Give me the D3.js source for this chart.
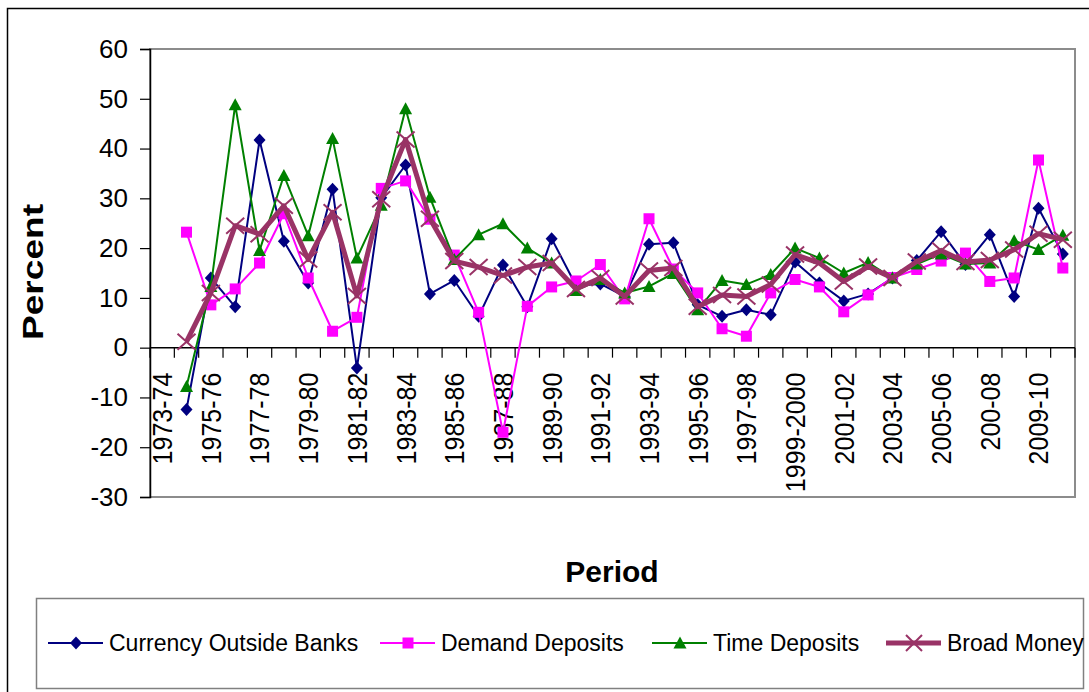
<!DOCTYPE html>
<html>
<head>
<meta charset="utf-8">
<script src="https://cdn.jsdelivr.net/npm/d3@7"></script>
<style>
  html, body { margin: 0; padding: 0; background: #fff; }
  svg { display: block; font-family: "Liberation Sans", Arial, sans-serif; }
</style>
</head>
<body>
<svg id="chart" width="1089" height="692"></svg>
<script>
// ---------- DATA ----------
const categories = ["1973-74","1974-75","1975-76","1976-77","1977-78","1978-79","1979-80","1980-81","1981-82","1982-83",
  "1983-84","1984-85","1985-86","1986-87","1987-88","1988-89","1989-90","1990-91","1991-92","1992-93",
  "1993-94","1994-95","1995-96","1996-97","1997-98","1998-99","1999-2000","2000-01","2001-02","2002-03",
  "2003-04","2004-05","2005-06","2006-07","2007-08","2008-09","2009-10","2010-11"];

// labels shown on the category axis (every other category, as in the original, incl. its "200-08")
const tickLabels = ["1973-74","1975-76","1977-78","1979-80","1981-82","1983-84","1985-86","1987-88","1989-90",
  "1991-92","1993-94","1995-96","1997-98","1999-2000","2001-02","2003-04","2005-06","200-08","2009-10"];

const currency = [null,-12.4,14.0,8.2,41.7,21.4,13.0,31.8,-4.1,30.1,
  36.7,10.8,13.5,6.3,16.6,8.2,21.9,12.5,12.8,10.3,
  20.8,21.1,8.6,6.3,7.6,6.6,17.2,13.0,9.4,10.8,
  14.0,17.5,23.3,16.7,22.7,10.3,28.0,18.8];

const demand = [null,23.2,8.6,11.8,17.0,26.9,14.0,3.3,6.1,32.0,
  33.5,25.8,18.6,7.1,-17.0,8.3,12.2,13.4,16.7,9.8,
  25.9,15.8,11.0,3.8,2.3,11.0,13.7,12.2,7.2,10.6,
  14.1,15.7,17.4,19.0,13.3,14.0,37.7,16.0];

const timeDep = [null,-7.8,12.3,48.8,19.5,34.6,22.5,42.0,18.0,28.6,
  48.0,30.2,17.7,22.7,24.9,20.0,17.0,11.5,13.7,11.0,
  12.3,14.9,7.6,13.5,12.7,14.7,20.0,18.0,15.0,17.1,
  14.0,16.8,18.8,16.8,17.0,21.5,19.7,22.6];

const broad = [null,1.2,11.0,24.5,22.8,28.5,17.7,27.2,10.4,29.8,
  41.8,25.9,17.4,16.2,14.5,16.2,17.0,11.8,14.0,10.3,
  15.5,16.0,8.2,10.6,10.3,12.7,18.7,17.0,13.3,16.3,
  14.0,17.3,19.5,17.2,17.6,19.7,22.9,21.7];

const seriesNames = ["Currency Outside Banks","Demand Deposits","Time Deposits","Broad Money"];
const yTicks = [-30,-20,-10,0,10,20,30,40,50,60];

// ---------- LAYOUT ----------
const svg = d3.select("#chart");
const W = 1089, H = 692;
const plot = {left: 150, right: 1075, top: 49, bottom: 497};

const x = d3.scaleBand().domain(categories).range([plot.left, plot.right]).padding(0);
const y = d3.scaleLinear().domain([-30, 60]).range([plot.bottom, plot.top]);

// outer chart border
svg.append("rect").attr("x", 7.5).attr("y", 8.5).attr("width", W + 10).attr("height", H + 10)
  .attr("fill", "#fff").attr("stroke", "#000").attr("stroke-width", 1.5);

// plot-area border (grey)
svg.append("rect").attr("x", plot.left).attr("y", plot.top)
  .attr("width", plot.right - plot.left).attr("height", plot.bottom - plot.top)
  .attr("fill", "none").attr("stroke", "#8c8c8c").attr("stroke-width", 2);

// y axis
const yAxis = d3.axisLeft(y).tickValues(yTicks).tickSize(10).tickPadding(12).tickFormat(d => String(d));
const yg = svg.append("g").attr("transform", `translate(${plot.left},0)`).call(yAxis);
yg.select(".domain").attr("stroke", "#000").attr("stroke-width", 1.5);
yg.selectAll(".tick line").attr("stroke", "#000").attr("stroke-width", 1.2);
yg.selectAll(".tick text").attr("font-size", 26).attr("fill", "#000")
  .attr("font-family", "'Liberation Sans', Arial, sans-serif");

// category axis crossing at zero
const zeroY = y(0);
const xg = svg.append("g").attr("transform", `translate(0,${zeroY})`);
xg.append("line").attr("x1", plot.left).attr("x2", plot.right).attr("y1", 0).attr("y2", 0)
  .attr("stroke", "#000").attr("stroke-width", 1.5);
const boundaries = categories.map(c => x(c)).concat([plot.right]);
xg.selectAll("line.bt").data(boundaries).enter().append("line").attr("class", "bt")
  .attr("x1", d => d).attr("x2", d => d).attr("y1", 0).attr("y2", 10)
  .attr("stroke", "#000").attr("stroke-width", 1.2);

const labelCats = categories.filter((c, i) => i % 2 === 0);
xg.selectAll("text.cl").data(labelCats).enter().append("text").attr("class", "cl")
  .attr("transform", (d) => `translate(${x(d) + x.bandwidth() / 2},25) rotate(-90) scale(1,1.1)`)
  .attr("text-anchor", "end").attr("dy", "0.36em")
  .attr("font-size", 25).attr("fill", "#000")
  .text((d, i) => tickLabels[i]);

// axis titles
svg.append("text").attr("transform", "translate(43,272) rotate(-90)")
  .attr("text-anchor", "middle").attr("font-weight", "bold").attr("font-size", 30)
  .attr("textLength", 136).attr("lengthAdjust", "spacingAndGlyphs")
  .text("Percent");
svg.append("text").attr("x", 612).attr("y", 582).attr("text-anchor", "middle")
  .attr("font-weight", "bold").attr("font-size", 30).text("Period");

// ---------- SERIES ----------
const markers = {
  diamond: "M0,-6.5L6,0L0,6.5L-6,0Z",
  square: "M-5.5,-5.5H5.5V5.5H-5.5Z",
  triangle: "M0,-6.5L6.5,5.5L-6.5,5.5Z",
  cross: "M-9,-8L9,8M-9,8L9,-8"
};
const series = [
  {name: seriesNames[0], values: currency, color: "#000080", width: 2, marker: "diamond", fill: true},
  {name: seriesNames[1], values: demand, color: "#ff00ff", width: 2, marker: "square", fill: true},
  {name: seriesNames[2], values: timeDep, color: "#008000", width: 2, marker: "triangle", fill: true},
  {name: seriesNames[3], values: broad, color: "#993366", width: 5, marker: "cross", fill: false}
];

const line = d3.line()
  .defined(d => d.v !== null)
  .x(d => x(d.c) + x.bandwidth() / 2)
  .y(d => y(d.v));

series.forEach(s => {
  const pts = categories.map((c, i) => ({c, v: s.values[i]}));
  const g = svg.append("g");
  g.append("path").datum(pts).attr("d", line)
    .attr("fill", "none").attr("stroke", s.color).attr("stroke-width", s.width)
    .attr("stroke-linejoin", "round");
  g.selectAll("path.m").data(pts.filter(p => p.v !== null)).enter().append("path").attr("class", "m")
    .attr("transform", d => `translate(${x(d.c) + x.bandwidth() / 2},${y(d.v)})`)
    .attr("d", markers[s.marker])
    .attr("fill", s.fill ? s.color : "none")
    .attr("stroke", s.fill ? "none" : s.color)
    .attr("stroke-width", s.fill ? 0 : 2);
});

// ---------- LEGEND ----------
const lg = svg.append("g");
lg.append("rect").attr("x", 36.5).attr("y", 598.5).attr("width", 1047).attr("height", 90)
  .attr("fill", "#fff").attr("stroke", "#808080").attr("stroke-width", 1.5);
const legendX = [48, 380, 652, 886];
series.forEach((s, i) => {
  const lx = legendX[i], ly = 643;
  lg.append("line").attr("x1", lx).attr("x2", lx + 55).attr("y1", ly).attr("y2", ly)
    .attr("stroke", s.color).attr("stroke-width", s.width);
  lg.append("path").attr("transform", `translate(${lx + 28},${ly})`)
    .attr("d", s.marker === "cross" ? "M-8,-8L8,8M-8,8L8,-8" : markers[s.marker])
    .attr("fill", s.fill ? s.color : "none")
    .attr("stroke", s.fill ? "none" : s.color).attr("stroke-width", s.fill ? 0 : 2);
  lg.append("text").attr("x", lx + 61).attr("y", ly).attr("dy", "0.36em")
    .attr("font-size", 23).attr("fill", "#000").text(s.name);
});
</script>
</body>
</html>
